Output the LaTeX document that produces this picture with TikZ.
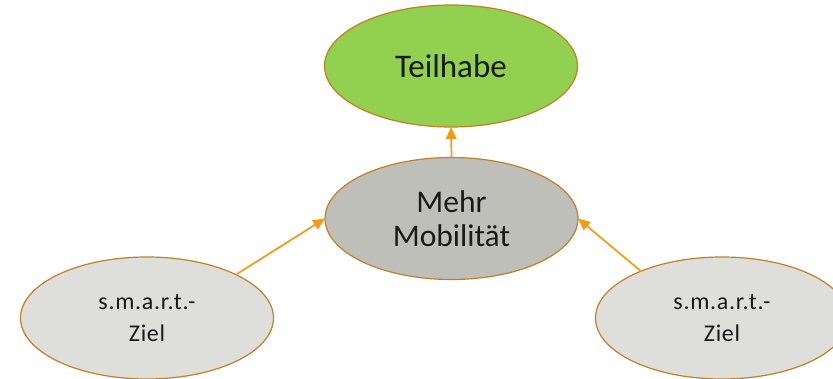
\documentclass[tikz,border=0pt]{standalone}
\usepackage{fontspec}
\setmainfont{Carlito}
\newfontfamily\smartfont[LetterSpace=3]{Carlito}
\usetikzlibrary{arrows.meta,shapes.geometric}
\definecolor{teilgreen}{HTML}{92D050}
\definecolor{mehrgray}{HTML}{BFBFBA}
\definecolor{smartgray}{HTML}{DEDEDA}
\definecolor{rimbrown}{HTML}{C47F24}
\definecolor{arroworange}{HTML}{F59A12}
\tikzset{
  bubble/.style={ellipse, draw=rimbrown, line width=1.2pt, inner sep=0pt, outer sep=0pt,
    minimum width=253pt, minimum height=122pt, align=center, text=black!90},
  bigtext/.style={font=\fontsize{31.5}{34}\selectfont},
  toptext/.style={font=\fontsize{33}{36}\selectfont},
  smalltext/.style={font=\smartfont\fontsize{24}{32}\selectfont},
  link/.style={draw=arroworange, line width=1.7pt, -{Triangle[length=12pt,width=10.5pt]}}
}
\begin{document}
\begin{tikzpicture}[x=1pt,y=-1pt]
\clip (0,0) rectangle (833,379);
\fill[white] (0,0) rectangle (833,379);
\node[bubble, toptext, fill=teilgreen] (teil) at (451,66) {Teilhabe};
\node[bubble, bigtext, fill=mehrgray] (mehr) at (451.5,218.5) {Mehr\\Mobilität};
\node[bubble, smalltext, fill=smartgray] (smartL) at (147,318) {s.m.a.r.t.-\\Ziel};
\node[bubble, smalltext, fill=smartgray] (smartR) at (722,318) {s.m.a.r.t.-\\Ziel};
\draw[link] (mehr.north) -- (teil.south);
\draw[link] (smartL.26) -- (mehr.west);
\draw[link] (smartR.150) -- (mehr.east);
\end{tikzpicture}
\end{document}
